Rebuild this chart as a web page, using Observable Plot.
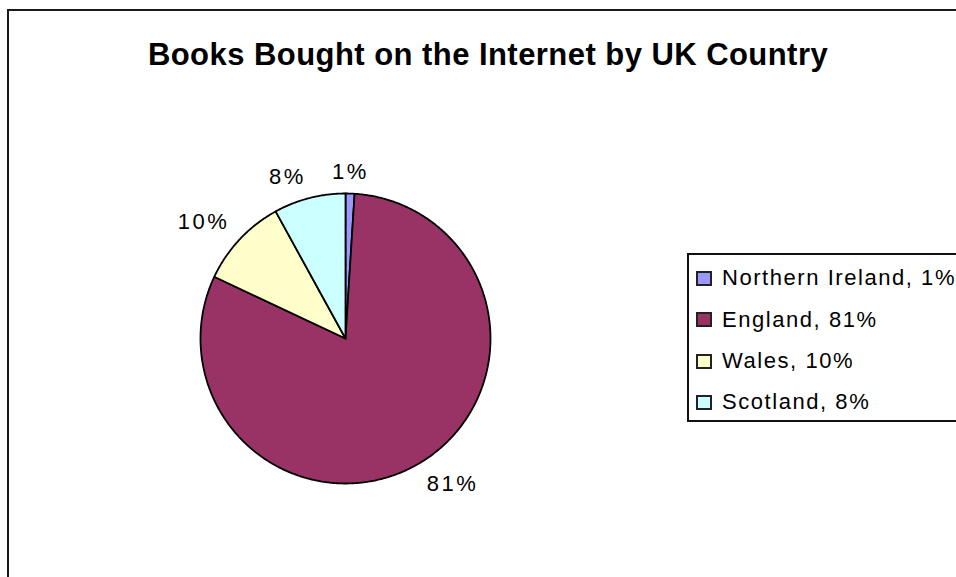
<!DOCTYPE html>
<html><head><meta charset="utf-8">
<script src="https://cdn.jsdelivr.net/npm/d3@7"></script>
<script src="https://cdn.jsdelivr.net/npm/@observablehq/plot@0.6"></script>
<style>
html,body{margin:0;padding:0;background:#fff;overflow:hidden}
#wrap{position:relative;width:956px;height:577px;overflow:hidden;font-family:"Liberation Sans",Arial,sans-serif;color:#000}
#frame{position:absolute;left:7px;top:9px;width:1000px;height:700px;border:2px solid #1a1a1a;box-sizing:border-box}
#title{position:absolute;left:0;width:976px;top:39px;text-align:center;font-weight:bold;font-size:31px;line-height:31px;letter-spacing:0.45px;white-space:nowrap}
#chart{position:absolute;left:0;top:0}
#chart svg text{letter-spacing:2.5px}
#legend{position:absolute;left:687px;top:253px;width:320px;height:169px;border:2px solid #111;box-sizing:border-box;background:#fff}
.sw{position:absolute;left:7px;width:16px;height:15px;border:2px solid #222;box-sizing:border-box}
.lt{position:absolute;left:33px;font-size:22px;line-height:22px;letter-spacing:1.55px;white-space:nowrap}
</style>
</head><body>
<div id="wrap">
  <div id="frame"></div>
  <div id="title"></div>
  <div id="chart"></div>
  <div id="legend"></div>
</div>
<script>
// ---- data ----
const titleText = "Books Bought on the Internet by UK Country";
const countries = ["Northern Ireland", "England", "Wales", "Scotland"];
const shares = [1, 81, 10, 8];
const colors = ["#9999FF", "#993366", "#FFFFCC", "#CCFFFF"];

document.getElementById("title").textContent = titleText;

// ---- pie geometry from the data (clockwise from 12 o'clock) ----
const total = d3.sum(shares);
const slices = [];
let acc = 0;
countries.forEach((name, i) => {
  const a0 = acc / total * 2 * Math.PI;
  acc += shares[i];
  const a1 = acc / total * 2 * Math.PI;
  slices.push({name, value: shares[i], a0, a1});
});

const pts = [];
for (const s of slices) {
  pts.push({name: s.name, x: 0, y: 0});
  const n = Math.max(2, Math.ceil((s.a1 - s.a0) / (Math.PI / 360)));
  for (let k = 0; k <= n; k++) {
    const t = s.a0 + (s.a1 - s.a0) * k / n;
    pts.push({name: s.name, x: Math.sin(t), y: Math.cos(t)});
  }
  pts.push({name: s.name, x: 0, y: 0});
}

const labels = slices.map(s => {
  const m = (s.a0 + s.a1) / 2;
  const sx = Math.sin(m), cy = Math.cos(m);
  return {
    label: s.value + "%",
    x: 1.1 * sx, y: 1.1 * cy,
    anchor: Math.abs(sx) < 0.2 ? "middle" : sx > 0 ? "start" : "end",
    line: cy > 0 ? "bottom" : "top"
  };
});

const combos = Array.from(new Set(labels.map(d => d.anchor + "|" + d.line)));
const labelMarks = combos.map(c => {
  const [anchor, line] = c.split("|");
  return Plot.text(labels.filter(d => d.anchor === anchor && d.line === line), {
    x: "x", y: "y", text: "label", textAnchor: anchor, lineAnchor: line,
    fill: "#000", fontSize: 22
  });
});

const chart = Plot.plot({
  width: 956, height: 577,
  marginLeft: 200, marginRight: 466, marginTop: 193, marginBottom: 94,
  x: {domain: [-1, 1], axis: null},
  y: {domain: [-1, 1], axis: null},
  color: {domain: countries, range: colors},
  style: {background: "transparent", fontFamily: "Liberation Sans, Arial, sans-serif", overflow: "visible"},
  marks: [
    Plot.line(pts, {x: "x", y: "y", z: "name", fill: "name", stroke: "#000", strokeWidth: 1.8, curve: "linear"}),
    ...labelMarks
  ]
});
document.getElementById("chart").appendChild(chart);

// ---- legend ----
const legend = document.getElementById("legend");
countries.forEach((name, i) => {
  const top = 12.4 + i * 41.3;
  const sw = document.createElement("div");
  sw.className = "sw";
  sw.style.top = (top + 3.6) + "px";
  sw.style.background = colors[i];
  legend.appendChild(sw);
  const t = document.createElement("div");
  t.className = "lt";
  t.style.top = top + "px";
  t.textContent = name + ", " + shares[i] + "%";
  legend.appendChild(t);
});
</script>
</body></html>
